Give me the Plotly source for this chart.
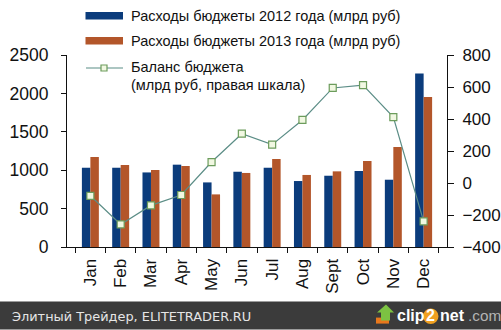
import plotly.graph_objects as go

# Monthly budget data
months = ["Jan", "Feb", "Mar", "Apr", "May", "Jun",
          "Jul", "Aug", "Sept", "Oct", "Nov", "Dec"]
spend_2012 = [1032, 1032, 971, 1072, 841, 980, 1032, 859, 928, 990, 876, 2260]
spend_2013 = [1172, 1068, 1003, 1055, 685, 964, 1146, 938, 985, 1120, 1302, 1953]
balance = [-80, -259, -140, -75, 131, 308, 240, 394, 594, 612, 412, -240]

left_ticks = [0, 500, 1000, 1500, 2000, 2500]
right_ticks = [-400, -200, 0, 200, 400, 600, 800]

legend_labels = ["Расходы бюджеты 2012 года (млрд руб)",
                 "Расходы бюджеты 2013 года (млрд руб)",
                 "Баланс бюджета",
                 "(млрд руб, правая шкала)"]
footer_text = "Элитный Трейдер, ELITETRADER.RU"

BLUE = "#0b3c7c"
ORANGE = "#b3562a"
LINE = "#5b8d86"
MARK_FILL = "#f1f8e2"
MARK_EDGE = "#6c9c5c"
FONT = "Liberation Sans, Arial, sans-serif"

W, H = 501, 330
L, R, T, B = 67, 447, 55, 247.3


def px(x):
    return (x - L) / (R - L)


def py(y):
    return (B - y) / (B - T)


fig = go.Figure()
fig.add_trace(go.Bar(x=months, y=spend_2012, marker_color=BLUE,
                     marker_line_width=0, name=legend_labels[0]))
fig.add_trace(go.Bar(x=months, y=spend_2013, marker_color=ORANGE,
                     marker_line_width=0, name=legend_labels[1]))
fig.add_trace(go.Scatter(x=months, y=balance, yaxis="y2", mode="lines+markers",
                         line=dict(color=LINE, width=1.2),
                         marker=dict(symbol="square", size=7, color=MARK_FILL,
                                     line=dict(color=MARK_EDGE, width=1.2)),
                         name=legend_labels[2]))

shapes = []
annotations = []

# Legend swatches
shapes.append(dict(type="rect", xref="paper", yref="paper",
                   x0=px(85.5), x1=px(123), y0=py(19.5), y1=py(12),
                   fillcolor=BLUE, line_width=0))
shapes.append(dict(type="rect", xref="paper", yref="paper",
                   x0=px(85.5), x1=px(123), y0=py(44.5), y1=py(37),
                   fillcolor=ORANGE, line_width=0))
shapes.append(dict(type="line", xref="paper", yref="paper",
                   x0=px(86), x1=px(123), y0=py(68), y1=py(68),
                   line=dict(color=LINE, width=1.2)))
shapes.append(dict(type="rect", xref="paper", yref="paper",
                   x0=px(101), x1=px(107), y0=py(71), y1=py(65),
                   fillcolor=MARK_FILL, line=dict(color=MARK_EDGE, width=1.2)))

for label, y in zip(legend_labels, [16, 41, 67, 85.5]):
    annotations.append(dict(text=label, xref="paper", yref="paper",
                            x=px(129), y=py(y), xanchor="left", yanchor="middle",
                            showarrow=False,
                            font=dict(family=FONT, size=14.5, color="#111")))

# Footer band
shapes.append(dict(type="rect", xref="paper", yref="paper",
                   x0=px(0), x1=px(W), y0=py(H), y1=py(302),
                   fillcolor="#3b3b3b", line_width=0, layer="below"))
annotations.append(dict(text=footer_text, xref="paper", yref="paper",
                        x=px(10), y=py(316.5), xanchor="left", yanchor="middle",
                        showarrow=False,
                        font=dict(family="DejaVu Sans, Verdana, sans-serif",
                                  size=12.9, color="#e6e6e6")))

# clip2net badge
shapes.append(dict(type="rect", xref="paper", yref="paper",
                   x0=px(376), x1=px(389), y0=py(324), y1=py(318),
                   fillcolor="#e8781c", line_width=0))
shapes.append(dict(type="path", xref="paper", yref="paper",
                   path=(f"M {px(381)} {py(321)} L {px(381)} {py(313)} "
                         f"L {px(377)} {py(313)} L {px(386)} {py(305)} "
                         f"L {px(394)} {py(313)} L {px(390)} {py(313)} "
                         f"L {px(390)} {py(321)} Z"),
                   fillcolor="#7cc242", line_width=0))
shapes.append(dict(type="circle", xref="paper", yref="paper",
                   x0=px(423), x1=px(438.5), y0=py(324.5), y1=py(309),
                   fillcolor="#f0a020", line_width=0))
for txt, x, anchor, color, size in [("<b>clip</b>", 395, "left", "#ffffff", 16),
                                    ("<b>2</b>", 430.8, "center", "#ffffff", 16),
                                    ("<b>net</b>", 438, "left", "#ffffff", 16),
                                    (".com", 466, "left", "#b4b4b4", 15.3)]:
    annotations.append(dict(text=txt, xref="paper", yref="paper",
                            x=px(x), y=py(316), xanchor=anchor,
                            yanchor="middle", showarrow=False,
                            font=dict(family=FONT, size=size, color=color)))

axis_font = dict(family=FONT, size=17.5, color="#111")

fig.update_layout(
    width=W, height=H,
    margin=dict(l=L, r=W - R, t=T, b=H - B, pad=0, autoexpand=False),
    paper_bgcolor="white", plot_bgcolor="white",
    showlegend=False,
    barmode="group", bargap=0.44, bargroupgap=0,
    shapes=shapes, annotations=annotations,
    xaxis=dict(type="category", showgrid=False, showline=True,
               linecolor="#111", linewidth=1, ticks="outside",
               tickson="boundaries", ticklen=5, tickcolor="#111",
               tickangle=-90, tickfont=dict(family=FONT, size=17, color="#111"),
               ticklabelstandoff=4, zeroline=False, automargin=False),
    yaxis=dict(range=[0, 2500], tickvals=left_ticks, showgrid=False,
               showline=True, linecolor="#111", linewidth=1,
               ticks="outside", ticklen=5, tickcolor="#111",
               tickfont=axis_font, ticklabelstandoff=9, zeroline=False,
               automargin=False),
    yaxis2=dict(range=[-400, 800], tickvals=right_ticks, overlaying="y",
                side="right", showgrid=False, showline=True,
                linecolor="#111", linewidth=1, ticks="outside", ticklen=6,
                tickcolor="#111", tickfont=dict(family=FONT, size=17, color="#111"),
                ticklabelstandoff=5, zeroline=False, automargin=False),
)

fig.write_html("out.html")
